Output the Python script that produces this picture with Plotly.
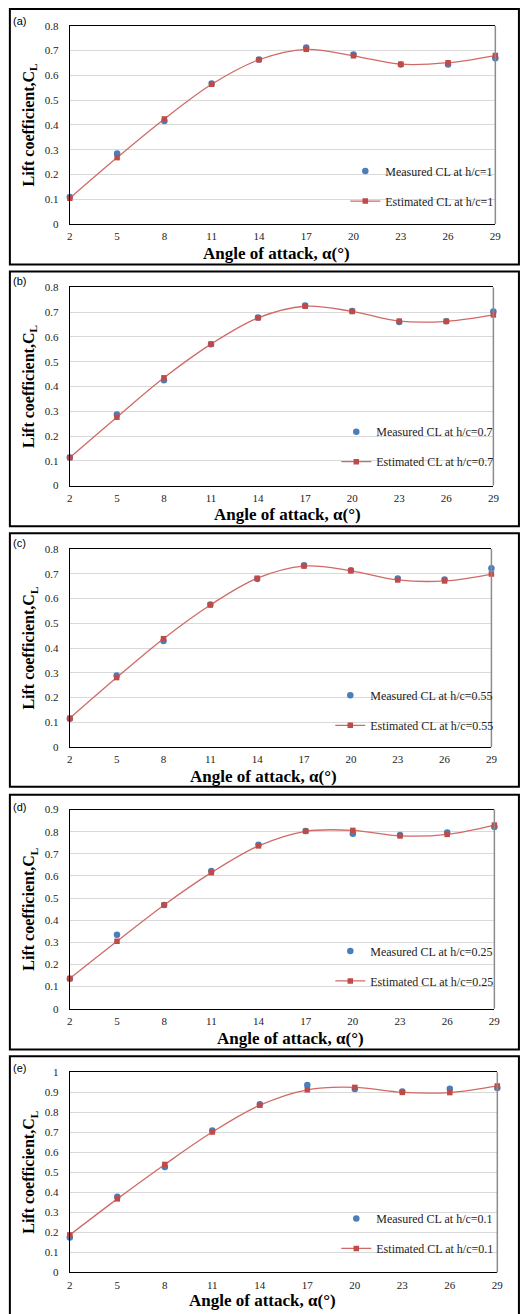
import plotly.graph_objects as go

W, H = 521, 1314

angles = [2, 5, 8, 11, 14, 17, 20, 23, 26, 29]
tick_vals = [2, 5, 8, 11, 14, 17, 20, 23, 26, 29]

panel_labels = ["(a)", "(b)", "(c)", "(d)", "(e)"]
hc_labels = ["1", "0.7", "0.55", "0.25", "0.1"]

measured_a = [0.109, 0.285, 0.416, 0.567, 0.664, 0.712, 0.684, 0.644, 0.644, 0.669]
estimated_a = [0.104, 0.268, 0.424, 0.564, 0.663, 0.705, 0.679, 0.645, 0.651, 0.680]

measured_b = [0.113, 0.287, 0.425, 0.571, 0.679, 0.727, 0.705, 0.660, 0.663, 0.703]
estimated_b = [0.113, 0.276, 0.435, 0.571, 0.677, 0.724, 0.703, 0.664, 0.663, 0.689]

measured_c = [0.115, 0.289, 0.429, 0.576, 0.679, 0.734, 0.714, 0.681, 0.677, 0.722]
estimated_c = [0.117, 0.281, 0.438, 0.574, 0.682, 0.731, 0.712, 0.675, 0.671, 0.699]

measured_d = [0.136, 0.334, 0.469, 0.623, 0.741, 0.803, 0.791, 0.785, 0.796, 0.821]
estimated_d = [0.137, 0.305, 0.469, 0.615, 0.736, 0.802, 0.806, 0.781, 0.788, 0.830]

measured_e = [0.174, 0.377, 0.526, 0.709, 0.840, 0.936, 0.916, 0.904, 0.917, 0.921]
estimated_e = [0.187, 0.367, 0.539, 0.701, 0.835, 0.912, 0.924, 0.899, 0.898, 0.931]

y_max = [0.8, 0.8, 0.8, 0.9, 1.0]

measured = [measured_a, measured_b, measured_c, measured_d, measured_e]
estimated = [estimated_a, estimated_b, estimated_c, estimated_d, estimated_e]

# layout geometry in pixels
plot_boxes = [  # x0, x1, ytop, ybottom
    (68, 501, 20, 220),
    (68, 499, 284, 484),
    (68, 497, 548, 748),
    (68, 500, 811, 1012),
    (68, 503, 1076, 1278),
]
frames = [(3, 261), (268, 525), (532, 788), (796, 1053), (1060, 1330)]
label_y = [15, 278, 542, 808, 1072]
xtitle_pos = [(278, 250), (289, 513), (265, 778), (293, 1042), (264, 1306)]
legend_top = [152, 415, 681, 939, 1209]

SERIF = "Liberation Serif, Times New Roman, serif"
SANS = "Liberation Sans, Arial, sans-serif"
BLUE = "#4A7EBB"
RED = "#BE4B48"
LINE_RED = "#D06A66"

def px_x(v):
    return v / W

def px_y(v):
    return 1 - v / H

fig = go.Figure()
layout = dict(
    width=W, height=H,
    margin=dict(l=0, r=0, t=0, b=0),
    paper_bgcolor="white", plot_bgcolor="white",
    showlegend=True,
    shapes=[], annotations=[],
)

for i in range(5):
    n = i + 1
    xs = "" if n == 1 else str(n)
    xa, ya = "x" + xs, "y" + xs
    leg = "legend" if n == 1 else f"legend{n}"
    x0, x1, yt, yb = plot_boxes[i]
    fig.add_trace(go.Scatter(
        x=angles, y=measured[i], mode="markers", xaxis=xa, yaxis=ya,
        name=f"Measured CL at h/c={hc_labels[i]}", legend=leg, legendgroup=f"m{n}",
        marker=dict(color=BLUE, size=6.5, symbol="circle"), cliponaxis=False,
    ))
    fig.add_trace(go.Scatter(
        x=angles, y=estimated[i], mode="lines+markers", xaxis=xa, yaxis=ya,
        name=f"Estimated CL at h/c={hc_labels[i]}", legend=leg, legendgroup=f"e{n}",
        line=dict(color=LINE_RED, width=1.3, shape="spline", smoothing=1),
        marker=dict(color=RED, size=5.5, symbol="square"), cliponaxis=False,
    ))
    layout["xaxis" + xs] = dict(
        domain=[px_x(x0), px_x(x1)], anchor=ya, range=[2, 29],
        tickvals=tick_vals, ticktext=[str(t) for t in tick_vals],
        showgrid=False, zeroline=False, showline=True, linecolor="black",
        linewidth=1.2, mirror=True, ticks="", ticklabelstandoff=2,
        tickfont=dict(family=SERIF, size=11, color="#222"),
    )
    layout["yaxis" + xs] = dict(
        domain=[px_y(yb), px_y(yt)], anchor=xa, range=[0, y_max[i]],
        dtick=0.1, tick0=0, showgrid=True, gridcolor="#D9D9D9", gridwidth=1,
        zeroline=False, showline=True, linecolor="black", linewidth=1.2,
        ticks="", tickformat="~g", ticklabelstandoff=8,
        tickfont=dict(family=SERIF, size=11, color="#222"),
    )
    # right border of plot area (gray)
    layout["shapes"].append(dict(
        type="line", xref=xa + " domain", yref=ya + " domain",
        x0=1, x1=1, y0=0, y1=1, line=dict(color="#8C8C8C", width=1.5),
    ))
    # outer frame
    ft, fb = frames[i]
    layout["shapes"].append(dict(
        type="rect", xref="paper", yref="paper",
        x0=px_x(7), x1=px_x(525), y0=px_y(fb), y1=px_y(ft),
        line=dict(color="black", width=2), fillcolor="rgba(0,0,0,0)",
    ))
    # panel label
    layout["annotations"].append(dict(
        text=panel_labels[i], xref="paper", yref="paper",
        x=px_x(17), y=px_y(label_y[i]), xanchor="center", yanchor="middle",
        showarrow=False, font=dict(family=SANS, size=11, color="black"),
    ))
    # x title
    tx, ty = xtitle_pos[i]
    layout["annotations"].append(dict(
        text="<b>Angle of attack, α(°)</b>", xref="paper", yref="paper",
        x=px_x(tx), y=px_y(ty), xanchor="center", yanchor="middle",
        showarrow=False, font=dict(family=SERIF, size=17, color="black"),
    ))
    # y title
    layout["annotations"].append(dict(
        text="<b>Lift coefficient,C<sub>L</sub></b>", xref="paper", yref="paper",
        x=px_x(27), y=px_y((yt + yb) / 2), xanchor="center", yanchor="middle",
        textangle=-90, showarrow=False,
        font=dict(family=SERIF, size=16, color="black"),
    ))
    layout[leg] = dict(
        x=px_x(504), y=px_y(legend_top[i]), xanchor="right", yanchor="top",
        bgcolor="rgba(0,0,0,0)", borderwidth=0, tracegroupgap=11,
        itemwidth=30, font=dict(family=SERIF, size=12, color="#222"),
    )

fig.update_layout(**layout)
fig.write_html(
    "out.html",
    config={"displayModeBar": False},
    post_script="document.body.style.margin='0';document.body.style.overflow='hidden';",
)
